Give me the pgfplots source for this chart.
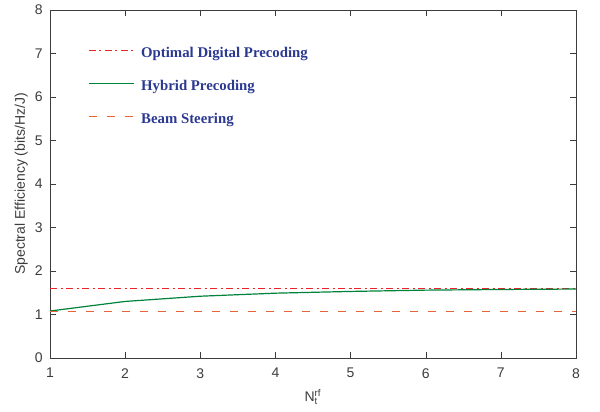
\documentclass[border=0pt]{standalone}
\usepackage{pgfplots}
\pgfplotsset{compat=1.18}
\usepackage{fontspec}
\setmainfont{Liberation Sans}
\newfontfamily\timesfont{Liberation Serif}
\definecolor{optc}{RGB}{235,35,40}
\definecolor{hybc}{RGB}{0,130,60}
\definecolor{beamc}{RGB}{230,100,55}
\definecolor{legc}{RGB}{43,57,144}
\definecolor{axc}{RGB}{60,60,60}
\begin{document}
\begin{tikzpicture}
\begin{axis}[
  scale only axis,
  width=394.5pt, height=261pt,
  xmin=1, xmax=8, ymin=0, ymax=8,
  xtick={1,...,8}, ytick={0,...,8},
  tick align=inside,
  axis line style={axc},
  tick style={axc, major tick length=4.5pt},
  tick label style={font=\fontsize{10.5}{12}\selectfont, text=axc, inner sep=0pt},
  xticklabel style={anchor=north, yshift=-7.5pt},
  yticklabel style={anchor=east, xshift=-5.25pt},
  /pgf/number format/assume math mode=true,
  xlabel={N$_{\mathrm{t}}^{\mathrm{rf}}$},
  ylabel={Spectral Efficiency (bits/Hz/J)},
  label style={font=\fontsize{10.5}{12}\selectfont, text=axc, inner sep=0pt},
  xlabel style={at={(axis description cs:0.5,0)}, anchor=north, yshift=-23pt},
  ylabel style={at={(axis description cs:0,0.5)}, anchor=south, yshift=16.5pt},
  legend style={draw=none, fill=none, inner sep=0pt, outer sep=0pt,
    at={(axis description cs:0.0722,0.893)}, anchor=north west,
    font=\timesfont\bfseries\fontsize{11.1}{13}\selectfont, text=legc,
    nodes={inner sep=0pt, text height=8pt, text depth=2.5pt},
    row sep=14.25pt, column sep=5.25pt},
  legend cell align=left,
  legend image code/.code={\draw[#1] (0pt,2.8pt) -- (33.75pt,2.8pt);},
]
\addplot[optc, line width=0.9pt, dash pattern=on 5.5pt off 2.5pt on 1.5pt off 2.5pt] coordinates {(1,1.59) (2,1.59) (3,1.59) (4,1.59) (5,1.59) (6,1.59) (7,1.59) (8,1.59)};
\addlegendentry{Optimal Digital Precoding}
\addplot[hybc, line width=0.9pt] coordinates {(1,1.08) (2,1.30) (3,1.42) (4,1.49) (5,1.53) (6,1.56) (7,1.575) (8,1.585)};
\addlegendentry{Hybrid Precoding}
\addplot[beamc, line width=0.9pt, dash pattern=on 6pt off 7.5pt] coordinates {(1,1.06) (2,1.06) (3,1.06) (4,1.06) (5,1.06) (6,1.06) (7,1.06) (8,1.06)};
\addlegendentry{Beam Steering}
\end{axis}
\pgfresetboundingbox
\useasboundingbox ([shift={(-37.5pt,-40.5pt)}]current axis.south west) rectangle ([shift={(18pt,7.5pt)}]current axis.north east);
\end{tikzpicture}
\end{document}
